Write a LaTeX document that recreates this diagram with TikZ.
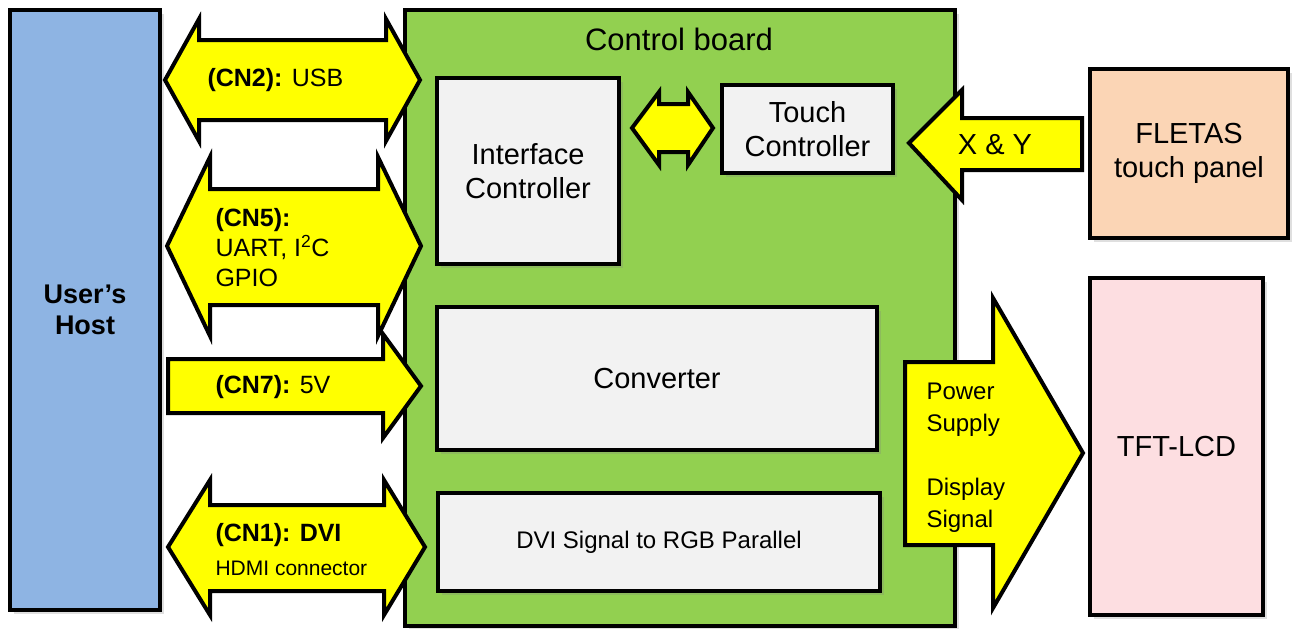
\documentclass[tikz,border=0pt]{standalone}
\usepackage{fontspec}
\setmainfont{Liberation Sans}
\usetikzlibrary{shadows}
\definecolor{hostblue}{HTML}{8EB4E3}
\definecolor{boardgreen}{HTML}{92D050}
\definecolor{boxgray}{HTML}{F2F2F2}
\definecolor{panelpeach}{HTML}{FBD5B5}
\definecolor{lcdpink}{HTML}{FDDEE1}
\definecolor{sigyellow}{HTML}{FFFF00}

\begin{document}
\begin{tikzpicture}[line cap=round,line join=round,x=1pt,y=-1pt,
    blk/.style={draw=black,line width=4pt,line join=miter,
      drop shadow={shadow xshift=4pt,shadow yshift=-4pt,opacity=0.25}},
    fatarrow/.style={draw=black,fill=sigyellow,line width=4pt,line join=miter},
    bigtxt/.style={font=\fontsize{29}{34}\selectfont,align=center},
    arrtxt/.style={font=\fontsize{25}{30}\selectfont,align=left,anchor=west}]
  \useasboundingbox (0,0) rectangle (1293,629);
  % blocks
  \node[blk,fill=hostblue,minimum width=150pt,minimum height=600pt,
    font=\fontsize{27}{31}\selectfont\bfseries,align=center] (host) at (85,310) {User’s\\Host};
  \node[blk,fill=boardgreen,minimum width=550pt,minimum height=616pt] (board) at (680,318) {};
  \node[font=\fontsize{31}{36}\selectfont] (boardtitle) at (679,39) {Control board};
  \node[blk,fill=boxgray,bigtxt,minimum width=182pt,minimum height=186pt] (iface) at (528,171) {Interface\\Controller};
  \node[blk,fill=boxgray,bigtxt,minimum width=171pt,minimum height=88pt] (touch) at (807.5,129) {Touch\\Controller};
  \node[blk,fill=boxgray,bigtxt,minimum width=440pt,minimum height=143pt] (conv) at (657,378.5) {Converter};
  \node[blk,fill=boxgray,minimum width=442pt,minimum height=98pt,
    font=\fontsize{24}{28}\selectfont] (dvi) at (659,542) {DVI Signal to RGB Parallel};
  \node[blk,fill=panelpeach,bigtxt,minimum width=198pt,minimum height=169pt] (fletas) at (1189,153.5) {FLETAS\\touch panel};
  \node[blk,fill=lcdpink,bigtxt,minimum width=173pt,minimum height=337pt] (tft) at (1176.5,446.5) {TFT-LCD};
  % fat arrows
  \draw[fatarrow] (165,80) -- (199,19) -- (199,40) -- (386,40) -- (386,19) -- (420,80)
    -- (386,141) -- (386,120) -- (199,120) -- (199,141) -- cycle;
  \draw[fatarrow] (167,246) -- (210,157) -- (210,189) -- (378,189) -- (378,157) -- (421,246)
    -- (378,336) -- (378,305) -- (210,305) -- (210,336) -- cycle;
  \draw[fatarrow] (168,359) -- (383,359) -- (383,334) -- (421,386) -- (383,438) -- (383,413)
    -- (168,413) -- cycle;
  \draw[fatarrow] (168,547) -- (210,480) -- (210,505) -- (384,505) -- (384,480) -- (425,547)
    -- (384,615) -- (384,591) -- (210,591) -- (210,615) -- cycle;
  \draw[fatarrow] (632,128) -- (659,92) -- (659,104) -- (688,104) -- (688,92) -- (713,128)
    -- (688,165) -- (688,152) -- (659,152) -- (659,165) -- cycle;
  \draw[fatarrow] (909,143) -- (962,90) -- (962,118) -- (1082,118) -- (1082,170) -- (962,170)
    -- (962,200) -- cycle;
  \draw[fatarrow] (905,362) -- (993,362) -- (993,298) -- (1083,453) -- (993,608) -- (993,545)
    -- (905,545) -- cycle;
  % arrow labels
  \node[arrtxt] (cntwo) at (204,80) {\textbf{(CN2):} USB};
  \node[arrtxt] (cnfive) at (212,248) {\textbf{(CN5):}\\UART, I\textsuperscript{2}C\\GPIO};
  \node[arrtxt] (cnseven) at (212,387) {\textbf{(CN7):} 5V};
  \node[arrtxt] (cnone) at (212,535) {\textbf{(CN1): DVI}};
  \node[arrtxt,font=\fontsize{21}{25}\selectfont] (cnonesub) at (212,568) {HDMI connector};
  \node[bigtxt] (xy) at (995,145) {X \& Y};
  \node[arrtxt,font=\fontsize{24}{32}\selectfont] (pwr) at (923,458) {Power\\Supply\\[32pt]Display\\Signal};
\end{tikzpicture}
\end{document}
